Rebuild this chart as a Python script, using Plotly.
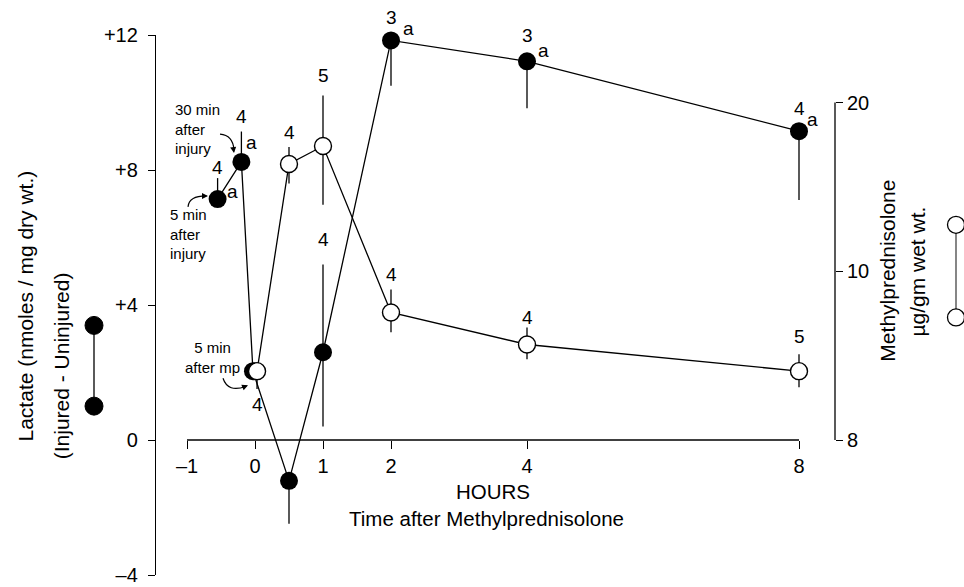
import plotly.graph_objects as go

# ---------------- data ----------------
# Lactate (injured - uninjured), filled circles
lac_hours = [-0.55, -0.2, -0.03, 0.5, 1, 2, 4, 8]
lac_vals = [7.14, 8.24, 2.04, -1.21, 2.6, 11.84, 11.22, 9.15]
lac_err_up = [0.62, 0.9, 0, 0, 2.6, 0, 0, 0]
lac_err_down = [0, 0, 0, 1.27, 2.2, 1.34, 1.39, 2.04]
lac_n = ["4", "4", "", "", "4", "3", "3", "4"]
lac_sig = ["a", "a", "", "", "", "a", "a", "a"]

# Methylprednisolone (plotted on the lactate scale), open circles
mp_hours = [0.03, 0.5, 1, 2, 4, 8]
mp_vals = [2.04, 8.18, 8.71, 3.78, 2.83, 2.04]
mp_err_up = [0, 0.5, 1.5, 0.68, 0.5, 0.5]
mp_err_down = [0.53, 0.58, 1.74, 0.59, 0.44, 0.48]
mp_n = ["4", "4", "5", "4", "4", "5"]

x_ticks = [-1, 0, 1, 2, 4, 8]
x_ticktext = ["\u20131", "0", "1", "2", "4", "8"]
y_ticks = [-4, 0, 4, 8, 12]
y_ticktext = ["\u20134", "0", "+4", "+8", "+12"]
mp_axis_ticks = [0, 5, 10]
mp_axis_text = ["8", "10", "20"]

# ---------------- layout helpers ----------------
FONT = "Liberation Sans, Arial, Helvetica, sans-serif"
X0PX, PXPERH = 255.0, 68.0
Y0PX, PXPERU = 441.0, 33.875
L, R = 156, 835


def X(px):
    return (px - X0PX) / PXPERH


def Y(py):
    return (Y0PX - py) / PXPERU


def PX(px):
    return (px - L) / (R - L)


# label offsets (pixels)
lac_n_shift = [32, 45, 0, 0, 113, 23, 26, 23]
lac_sig_shift = [(15, 8), (10, 19), (0, 0), (0, 0), (0, 0), (17, 12), (16, 11), (13, 12)]
mp_n_shift = [-33, 31, 71, 38, 27, 35]

fig = go.Figure()

fig.add_trace(go.Scatter(
    x=lac_hours, y=lac_vals, mode="lines+markers",
    line=dict(color="black", width=1.3),
    marker=dict(size=18, color="black"),
    error_y=dict(type="data", symmetric=False, array=lac_err_up,
                 arrayminus=lac_err_down, width=0, thickness=1.3, color="black"),
    cliponaxis=False, showlegend=False, hoverinfo="skip"))

fig.add_trace(go.Scatter(
    x=mp_hours, y=mp_vals, mode="lines+markers",
    line=dict(color="black", width=1.3),
    marker=dict(size=17, color="white", line=dict(color="black", width=1.4)),
    error_y=dict(type="data", symmetric=False, array=mp_err_up,
                 arrayminus=mp_err_down, width=0, thickness=1.3, color="black"),
    cliponaxis=False, showlegend=False, hoverinfo="skip"))

# invisible trace to activate the right axis
fig.add_trace(go.Scatter(x=[None], y=[None], yaxis="y2", showlegend=False))

ann = []
for xh, yv, n, s in zip(lac_hours, lac_vals, lac_n, lac_n_shift):
    if n:
        ann.append(dict(x=xh, y=yv, text=n, showarrow=False, yshift=s,
                        font=dict(size=19, family=FONT, color="black")))
for xh, yv, a, (dx, dy) in zip(lac_hours, lac_vals, lac_sig, lac_sig_shift):
    if a:
        ann.append(dict(x=xh, y=yv, text=a, showarrow=False, xshift=dx, yshift=dy,
                        font=dict(size=19, family=FONT, color="black")))
for xh, yv, n, s in zip(mp_hours, mp_vals, mp_n, mp_n_shift):
    if n:
        ann.append(dict(x=xh, y=yv, text=n, showarrow=False, yshift=s,
                        font=dict(size=19, family=FONT, color="black")))

small = dict(size=15, family=FONT, color="black")
title_font = dict(size=21, family=FONT, color="black")
ann += [
    dict(x=X(173), y=Y(129), text="30 min<br>after<br>injury", showarrow=False,
         xanchor="left", align="left", font=small),
    dict(x=X(168), y=Y(234), text="5 min<br>after<br>injury", showarrow=False,
         xanchor="left", align="left", font=small),
    dict(x=X(212), y=Y(358), text="5 min<br>after mp", showarrow=False,
         align="center", font=small),
    # arrow heads
    dict(x=X(234), y=Y(153), ax=-1, ay=-7, text="", showarrow=True,
         arrowhead=2, arrowsize=1, arrowwidth=1.2, arrowcolor="black", standoff=0),
    dict(x=X(208), y=Y(196), ax=-7, ay=0, text="", showarrow=True,
         arrowhead=2, arrowsize=1, arrowwidth=1.2, arrowcolor="black", standoff=0),
    dict(x=X(248), y=Y(386), ax=-7, ay=3, text="", showarrow=True,
         arrowhead=2, arrowsize=1, arrowwidth=1.2, arrowcolor="black", standoff=0),
    # axis titles
    dict(x=3.5, y=Y(493), text="HOURS", showarrow=False,
         font=dict(size=20.5, family=FONT, color="black")),
    dict(x=3.4, y=Y(520), text="Time after Methylprednisolone", showarrow=False,
         font=dict(size=20.5, family=FONT, color="black")),
    dict(xref="paper", x=PX(25), y=Y(307), text="Lactate (nmoles / mg dry wt.)",
         xanchor="center", yanchor="middle",
         textangle=-90, showarrow=False, font=title_font),
    dict(xref="paper", x=PX(61), y=Y(367), text="(Injured - Uninjured)",
         xanchor="center", yanchor="middle",
         textangle=-90, showarrow=False, font=title_font),
    dict(xref="paper", x=PX(888), y=Y(271), text="Methylprednisolone",
         xanchor="center", yanchor="middle",
         textangle=-90, showarrow=False, font=title_font),
    dict(xref="paper", x=PX(918), y=Y(272), text="\u00b5g/gm wet wt.",
         xanchor="center", yanchor="middle",
         textangle=-90, showarrow=False, font=title_font),
]

shapes = [
    # x axis line at y = 0 from -1 to 8
    dict(type="line", xref="x", yref="y", x0=x_ticks[0], x1=x_ticks[-1], y0=0, y1=0,
         line=dict(color="black", width=1.3)),
    # right axis line from 8 to 20
    dict(type="line", xref="paper", yref="y", x0=1, x1=1,
         y0=mp_axis_ticks[0], y1=mp_axis_ticks[-1], line=dict(color="black", width=1.3)),
    # curved arrows
    dict(type="path", xref="x", yref="y",
         path=f"M {X(220)},{Y(134)} Q {X(233)},{Y(135)} {X(234)},{Y(150)}",
         line=dict(color="black", width=1.2)),
    dict(type="path", xref="x", yref="y",
         path=f"M {X(188)},{Y(207)} Q {X(189)},{Y(196)} {X(206)},{Y(196)}",
         line=dict(color="black", width=1.2)),
    dict(type="path", xref="x", yref="y",
         path=f"M {X(223)},{Y(379)} Q {X(228)},{Y(394)} {X(246)},{Y(387)}",
         line=dict(color="black", width=1.2)),
    # legend glyph: lactate (filled)
    dict(type="line", xref="paper", yref="y", x0=PX(94), x1=PX(94), y0=Y(326), y1=Y(407),
         line=dict(color="black", width=1.3)),
    # legend glyph: methylprednisolone (open)
    dict(type="line", xref="paper", yref="y", x0=PX(956), x1=PX(956), y0=Y(225), y1=Y(318),
         line=dict(color="#444", width=1.3)),
]
for cy in (326, 407):
    shapes.append(dict(type="circle", xref="paper", yref="y", xsizemode="pixel",
                       ysizemode="pixel", xanchor=PX(94), yanchor=Y(cy),
                       x0=-9, x1=9, y0=-9, y1=9, fillcolor="black",
                       line=dict(color="black", width=1)))
for cy in (225, 318):
    shapes.append(dict(type="circle", xref="paper", yref="y", xsizemode="pixel",
                       ysizemode="pixel", xanchor=PX(956), yanchor=Y(cy),
                       x0=-8.5, x1=8.5, y0=-8.5, y1=8.5, fillcolor="white",
                       line=dict(color="black", width=1.3)))

fig.update_layout(
    template="none",
    width=964, height=587,
    margin=dict(l=L, r=964 - R, t=35, b=12, pad=0, autoexpand=False),
    paper_bgcolor="white", plot_bgcolor="white",
    font=dict(family=FONT, size=20, color="black"),
    xaxis=dict(range=[X(L), X(R)], anchor="free", position=0.25, automargin=False,
               tickvals=x_ticks, ticktext=x_ticktext, ticks="outside",
               ticklen=8, tickwidth=1.3, tickcolor="black",
               showline=False, showgrid=False, zeroline=False,
               tickfont=dict(size=20, family=FONT)),
    yaxis=dict(range=[-4, 12], tickvals=y_ticks, ticktext=y_ticktext, automargin=False,
               ticks="outside", ticklen=7, tickwidth=1.3, tickcolor="black",
               ticklabelstandoff=6,
               showline=True, linewidth=1.3, linecolor="black",
               showgrid=False, zeroline=False, tickfont=dict(size=20, family=FONT)),
    yaxis2=dict(range=[-4, 12], overlaying="y", side="right", anchor="x",
                automargin=False,
                tickvals=mp_axis_ticks, ticktext=mp_axis_text,
                ticks="outside", ticklen=7, tickwidth=1.3, tickcolor="black",
                showline=False, showgrid=False, zeroline=False,
                tickfont=dict(size=20, family=FONT)),
    annotations=ann, shapes=shapes, hovermode=False, showlegend=False,
)

fig.write_html("out.html", config={"displayModeBar": False},
               post_script="document.body.style.margin='0';document.body.style.overflow='hidden';")
